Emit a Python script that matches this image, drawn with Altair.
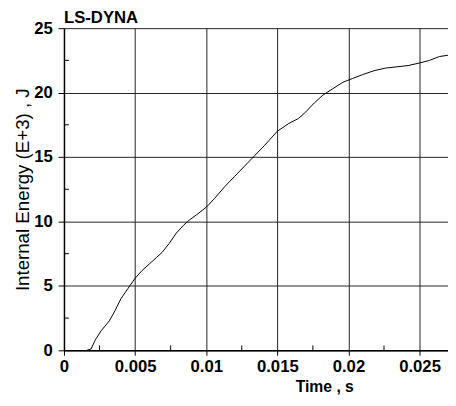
import altair as alt
import pandas as pd

# Data
time_s = [0.0016, 0.0019, 0.0022, 0.0026, 0.0032, 0.0036, 0.0040, 0.0045, 0.0050,
          0.0055, 0.0060, 0.0065, 0.0069, 0.0074, 0.0079, 0.0084, 0.0088, 0.0093,
          0.0100, 0.0106, 0.0113, 0.0120, 0.0127, 0.0134, 0.0141, 0.0150, 0.0158,
          0.0165, 0.0170, 0.0176, 0.0182, 0.0189, 0.0196, 0.0203, 0.0210, 0.0218,
          0.0226, 0.0234, 0.0242, 0.0250, 0.0257, 0.0264, 0.0270]
energy = [0.0, 0.1, 0.8, 1.5, 2.3, 3.1, 4.0, 4.8, 5.6,
          6.2, 6.7, 7.2, 7.6, 8.3, 9.1, 9.7, 10.1, 10.5,
          11.1, 11.8, 12.7, 13.5, 14.3, 15.1, 15.9, 17.0, 17.6,
          18.0, 18.5, 19.2, 19.8, 20.3, 20.8, 21.1, 21.4, 21.7,
          21.9, 22.0, 22.1, 22.3, 22.5, 22.8, 22.9]

x_ticks = [0, 0.005, 0.01, 0.015, 0.02, 0.025]
y_ticks = [0, 5, 10, 15, 20, 25]
x_minor = [0.0025, 0.0075, 0.0125, 0.0175, 0.0225]
y_minor = [2.5, 7.5, 12.5, 17.5, 22.5]
header = ["LS-DYNA"]

x_domain = [0, 0.027]
y_domain = [0, 25]

FONT = "Liberation Sans"

df = pd.DataFrame({"t": time_s, "E": energy})
df_xm = pd.DataFrame({"t": x_minor})
df_ym = pd.DataFrame({"E": y_minor})
df_h = pd.DataFrame({"h": header})

xscale = alt.Scale(domain=x_domain, nice=False, zero=False)
yscale = alt.Scale(domain=y_domain, nice=False)

line = alt.Chart(df).mark_line(color="black", strokeWidth=1, clip=True).encode(
    x=alt.X("t:Q", scale=xscale,
            axis=alt.Axis(values=x_ticks, format="~g", title="Time , s",
                          titleX=265, titleY=42, titleAlign="center",
                          titleBaseline="alphabetic", titleFontSize=16,
                          titleFontWeight="bold", tickSize=5, labelPadding=4,
                          labelFontSize=17, labelFontWeight="bold",
                          labelFlush=False)),
    y=alt.Y("E:Q", scale=yscale,
            axis=alt.Axis(values=y_ticks, title="Internal Energy (E+3) , J",
                          titleX=-36, titleY=164, titleAngle=270,
                          titleAlign="center", titleBaseline="alphabetic",
                          titleFontSize=19, titleFontWeight="normal",
                          tickSize=6, labelPadding=6, labelFontSize=17,
                          labelFontWeight="bold", labelFlush=False)),
)

ymin = alt.Chart(df_ym).mark_rule(color="black", strokeWidth=1).encode(
    y=alt.Y("E:Q", scale=yscale),
    x=alt.value(0), x2=alt.value(5),
)

xmin = alt.Chart(df_xm).mark_rule(color="black", strokeWidth=1).encode(
    x=alt.X("t:Q", scale=xscale),
    y=alt.value(328), y2=alt.value(323),
)

head = alt.Chart(df_h).mark_text(
    align="left", baseline="alphabetic", fontSize=17, fontWeight="bold",
    font=FONT, color="black"
).encode(text="h:N", x=alt.value(0), y=alt.value(-5))

chart = alt.layer(line, ymin, xmin, head).properties(
    width=391, height=328,
    padding={"left": 57, "top": 17, "right": 0, "bottom": 45},
    autosize=alt.AutoSizeParams(type="none"),
    background="white",
).configure_view(strokeWidth=0).configure_axis(
    labelFont=FONT, titleFont=FONT, labelColor="black", titleColor="black",
    domainColor="black", domainWidth=1.5, tickColor="black", tickWidth=1,
    grid=True, gridColor="#222222", gridWidth=1, gridOpacity=1,
)

chart.save("out.html", embed_options={"renderer": "svg", "actions": False})
